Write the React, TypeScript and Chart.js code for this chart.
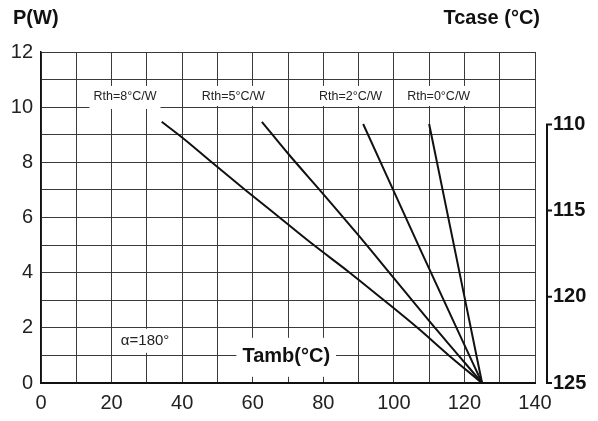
import React, { useEffect, useRef } from "react";
import { Chart, registerables } from "chart.js";

Chart.register(...registerables);

// Tamb (°C) vs P (W) for each case-to-ambient thermal resistance
const rth8X = [34.2, 40, 48.4, 57.9, 67.6, 77.3, 87.5, 97.2, 106.7, 115.6, 125];
const rth8P = [9.47, 8.9, 8.0, 7.0, 6.0, 5.0, 4.0, 3.0, 2.0, 1.0, 0];
const rth5X = [62.6, 70, 80, 90, 100, 110, 118, 125];
const rth5P = [9.47, 8.32, 6.85, 5.35, 3.8, 2.25, 1.05, 0];
const rth2X = [91.3, 108, 125];
const rth2P = [9.39, 4.7, 0];
const rth0X = [110, 125];
const rth0P = [9.39, 0];

const seriesNames = ["Rth=8°C/W", "Rth=5°C/W", "Rth=2°C/W", "Rth=0°C/W"];
const labelAt = [
  [23.8, 10.37],
  [54.5, 10.37],
  [87.7, 10.37],
  [112.7, 10.37],
];
const labelBoxExtra = [3, 0, 0, 0];
const tcaseTicks = [110, 115, 120, 125];
const xMax = 140;
const yMax = 12;
const tcaseAtZero = 125;
const rthJC = 1.6;

const NARROW = "'Liberation Sans Narrow', 'Liberation Sans', Arial, sans-serif";
const SANS = "'Liberation Sans', Arial, sans-serif";

function pts(xs: number[], ys: number[]) {
  return xs.map((x, i) => ({ x, y: ys[i] }));
}

const annotations = {
  id: "annotations",
  afterDraw(chart: any) {
    const ctx = chart.ctx;
    const xs = chart.scales.x;
    const ys = chart.scales.y;
    const y2 = chart.scales.y2;
    ctx.save();
    // Rth labels with white background
    ctx.font = `12.5px ${SANS}`;
    ctx.textAlign = "center";
    ctx.textBaseline = "middle";
    seriesNames.forEach((name, i) => {
      const cx = xs.getPixelForValue(labelAt[i][0]);
      const cy = ys.getPixelForValue(labelAt[i][1]);
      const w = ctx.measureText(name).width;
      ctx.fillStyle = "#fff";
      ctx.fillRect(cx - w / 2 - 4, cy - 11, w + 8, 20 + labelBoxExtra[i]);
      ctx.fillStyle = "#222";
      ctx.fillText(name, cx, cy);
    });
    // alpha label
    {
      const cx = xs.getPixelForValue(29.5);
      const cy = ys.getPixelForValue(1.53);
      ctx.font = `15px ${SANS}`;
      const t = "α=180°";
      const w = ctx.measureText(t).width;
      ctx.fillStyle = "#fff";
      ctx.fillRect(cx - w / 2 - 5, cy - 12, w + 10, 24);
      ctx.fillStyle = "#222";
      ctx.fillText(t, cx, cy);
    }
    // Tamb axis title
    {
      const cx = xs.getPixelForValue(69.5);
      const cy = ys.getPixelForValue(0.95);
      ctx.font = `bold 20px ${NARROW}`;
      const t = "Tamb(°C)";
      const w = ctx.measureText(t).width;
      ctx.fillStyle = "#fff";
      ctx.fillRect(cx - w / 2 - 6, cy - 19, w + 12, 39);
      ctx.fillStyle = "#111";
      ctx.fillText(t, cx, cy);
    }
    // titles
    ctx.font = `bold 20px ${NARROW}`;
    ctx.fillStyle = "#111";
    ctx.textAlign = "left";
    ctx.fillText("P(W)", 13, 18);
    ctx.textAlign = "right";
    ctx.fillText("Tcase (°C)", 540, 18);
    // Tcase bracket axis
    const bx = chart.chartArea.right + 12;
    const yTop = y2.getPixelForValue(tcaseTicks[0]);
    const yBot = y2.getPixelForValue(tcaseTicks[tcaseTicks.length - 1]);
    ctx.strokeStyle = "#111";
    ctx.lineWidth = 2;
    ctx.beginPath();
    ctx.moveTo(bx, yTop);
    ctx.lineTo(bx, yBot);
    tcaseTicks.forEach((v) => {
      const py = y2.getPixelForValue(v);
      ctx.moveTo(bx - 1, py);
      ctx.lineTo(bx + 5, py);
    });
    ctx.stroke();
    ctx.restore();
  },
};

export default function App() {
  const ref = useRef<HTMLCanvasElement>(null);
  useEffect(() => {
    if (!ref.current) return;
    const line = (xs: number[], ys: number[]) => ({
      data: pts(xs, ys),
      borderColor: "#111",
      borderWidth: 2,
      pointRadius: 0,
      tension: 0.3,
      cubicInterpolationMode: "monotone" as const,
      fill: false,
      yAxisID: "y",
    });
    const chart = new Chart(ref.current, {
      type: "line",
      data: {
        datasets: [
          { label: seriesNames[0], ...line(rth8X, rth8P) },
          { label: seriesNames[1], ...line(rth5X, rth5P) },
          { label: seriesNames[2], ...line(rth2X, rth2P) },
          { label: seriesNames[3], ...line(rth0X, rth0P) },
        ],
      },
      options: {
        animation: false,
        responsive: false,
        devicePixelRatio: 1,
        layout: { padding: { top: 52, left: 0, right: 0, bottom: 0 } },
        plugins: { legend: { display: false }, tooltip: { enabled: false } },
        scales: {
          x: {
            type: "linear",
            min: 0,
            max: xMax,
            ticks: {
              stepSize: 10,
              autoSkip: false,
              maxRotation: 0,
              padding: 8,
              color: "#222",
              font: { family: NARROW, size: 20 },
              callback: (v: any) => (v % 20 === 0 ? String(v) : ""),
            },
            grid: { color: "#3a3a3a", lineWidth: 1, drawTicks: false },
            border: { color: "#111", width: 2 },
            afterFit: (s: any) => {
              s.height = 38;
            },
          },
          y: {
            type: "linear",
            min: 0,
            max: yMax,
            ticks: {
              stepSize: 1,
              autoSkip: false,
              padding: 8,
              color: "#222",
              font: { family: NARROW, size: 20 },
              callback: (v: any) => (v % 2 === 0 ? String(v) : ""),
            },
            grid: { color: "#3a3a3a", lineWidth: 1, drawTicks: false },
            border: { color: "#111", width: 1.5 },
            afterFit: (s: any) => {
              s.width = 41;
            },
          },
          y2: {
            type: "linear",
            position: "right",
            reverse: true,
            min: tcaseAtZero - yMax * rthJC,
            max: tcaseAtZero,
            afterBuildTicks: (s: any) => {
              s.ticks = tcaseTicks.map((v) => ({ value: v }));
            },
            ticks: {
              padding: 18,
              color: "#111",
              font: { family: NARROW, size: 20, weight: "bold" },
            },
            grid: { display: false, drawTicks: false },
            border: { display: false },
            afterFit: (s: any) => {
              s.width = 63;
            },
          },
        },
      },
      plugins: [annotations],
    });
    return () => chart.destroy();
  }, []);
  return (
    <div style={{ position: "absolute", left: 0, top: 0, width: 598, height: 421, background: "#fff" }}>
      <canvas ref={ref} width={598} height={421} style={{ width: 598, height: 421 }} />
    </div>
  );
}
